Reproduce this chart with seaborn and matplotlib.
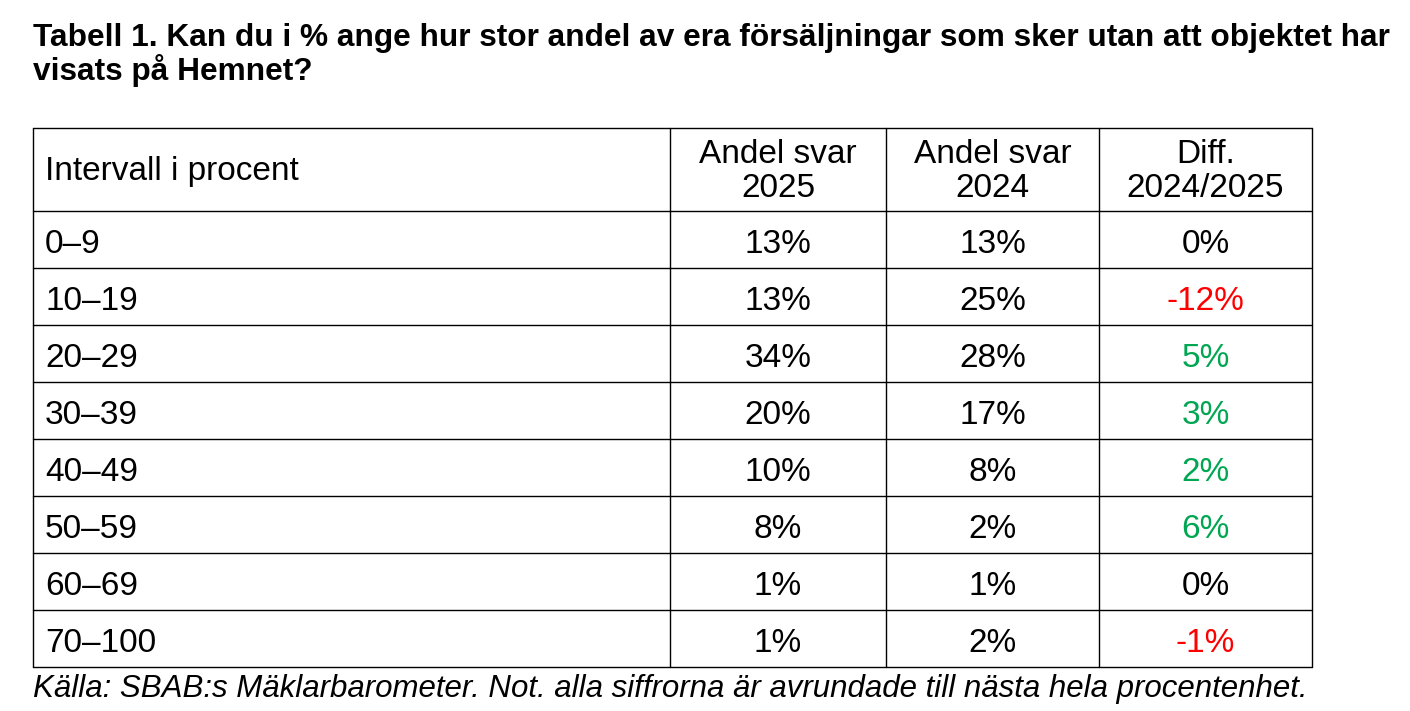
import matplotlib
matplotlib.use("Agg")
import matplotlib.pyplot as plt
import seaborn as sns

# =========================
# DATA
# =========================
intervals = ["0–9", "10–19", "20–29", "30–39", "40–49", "50–59", "60–69", "70–100"]
share_2025 = [13, 13, 34, 20, 10, 8, 1, 1]
share_2024 = [13, 25, 28, 17, 8, 2, 1, 2]
diff = [0, -12, 5, 3, 2, 6, 0, -1]
headers = ["Intervall i procent", "Andel svar\n2025", "Andel svar\n2024", "Diff.\n2024/2025"]
title = "Tabell 1. Kan du i % ange hur stor andel av era försäljningar som sker utan att objektet har\nvisats på Hemnet?"
note = "Källa: SBAB:s Mäklarbarometer. Not. alla siffrorna är avrundade till nästa hela procentenhet."

# =========================
# LAYOUT
# =========================
sns.set_theme(style="white", font="Liberation Sans", rc={"text.color": "black"})
W, H = 1410, 711
col_edges = [33, 670, 886, 1099, 1312]
head_top, head_bot, row_h = 128, 211, 57
FS = 24

fig = plt.figure(figsize=(W / 100, H / 100), dpi=100)
ax = fig.add_axes([0, 0, 1, 1])
ax.set_xlim(0, W)
ax.set_ylim(H, 0)
ax.axis("off")

ax.text(33, 55, title, fontsize=22.8, fontweight="bold", va="center", ha="left",
        linespacing=1.05, color="black")

n = len(intervals)
bottom = head_bot + n * row_h
lw = 1.0
for x in col_edges:
    ax.plot([x, x], [head_top, bottom], color="black", lw=lw)
ax.plot([col_edges[0], col_edges[-1]], [head_top, head_top], color="black", lw=lw)
for i in range(n + 1):
    y = head_bot + i * row_h
    ax.plot([col_edges[0], col_edges[-1]], [y, y], color="black", lw=lw)

hy = (head_top + head_bot) / 2
ax.text(col_edges[0] + 12, hy + 2, headers[0], fontsize=FS, va="center", ha="left", color="black")
for j in range(1, 4):
    cx = (col_edges[j] + col_edges[j + 1]) / 2
    ax.text(cx, hy + 2, headers[j], fontsize=FS, va="center", ha="center",
            linespacing=1.1, color="black")

def diff_color(v):
    if v < 0:
        return "#ff0000"
    if v > 0:
        return "#00a651"
    return "black"

for i in range(n):
    cy = head_bot + i * row_h + row_h / 2 + 5
    ax.text(col_edges[0] + 12, cy, intervals[i], fontsize=FS, va="center", ha="left", color="black")
    vals = [share_2025[i], share_2024[i], diff[i]]
    for j, v in enumerate(vals, start=1):
        cx = (col_edges[j] + col_edges[j + 1]) / 2
        c = diff_color(v) if j == 3 else "black"
        ax.text(cx, cy, f"{v}%", fontsize=FS, va="center", ha="center", color=c)

ax.text(33, bottom + 22, note, fontsize=22.5, style="italic", va="center", ha="left", color="black")

fig.savefig("out.png", dpi=100)
